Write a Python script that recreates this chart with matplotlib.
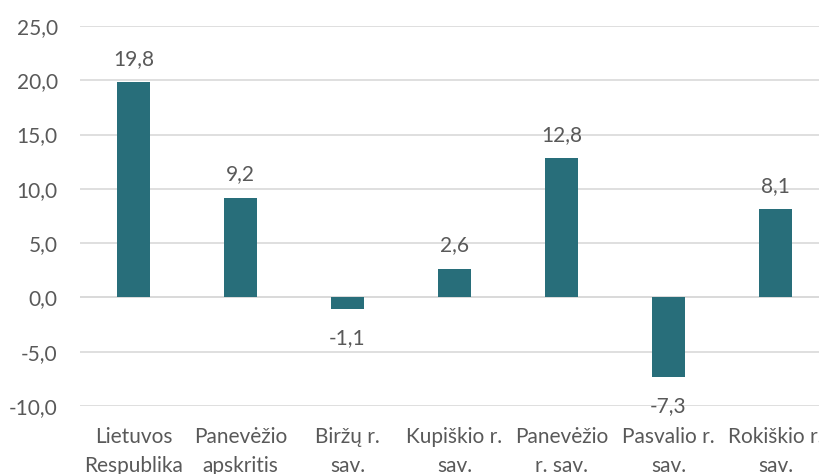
import matplotlib.pyplot as plt

categories = ["Lietuvos\nRespublika", "Panevėžio\napskritis", "Biržų r.\nsav.",
              "Kupiškio r.\nsav.", "Panevėžio\nr. sav.", "Pasvalio r.\nsav.",
              "Rokiškio r.\nsav."]
values = [19.8, 9.2, -1.1, 2.6, 12.8, -7.3, 8.1]
yticks = [-10, -5, 0, 5, 10, 15, 20, 25]

plt.rcParams['font.family'] = ['Lato', 'DejaVu Sans']
text_color = "#595959"

fig = plt.figure(figsize=(8.2, 4.74), dpi=100)
ax = fig.add_axes([80/820, 68/474, 749/820, 380/474])

x = list(range(len(categories)))
ax.bar(x, values, width=0.31, color="#286E7A", zorder=3)

# data labels above / below bars
for xi, v in zip(x, values):
    off = 17 if v >= 0 else -21
    ax.annotate(f"{v:.1f}".replace(".", ","), (xi, v), xytext=(0, off),
                textcoords="offset points", ha="center", va="center",
                fontsize=15, color=text_color)

ax.set_xlim(-0.5, len(categories) - 0.5)
ax.set_ylim(-10, 25)
ax.set_yticks(yticks)
ax.set_yticklabels([f"{t:.1f}".replace(".", ",") for t in yticks])
ax.set_xticks(x)
ax.set_xticklabels(categories, linespacing=1.6)

ax.grid(axis="y", color="#D9D9D9", linewidth=1.2, zorder=0)
ax.axhline(0, color="#D9D9D9", linewidth=1.2, zorder=1)
for s in ax.spines.values():
    s.set_visible(False)
ax.tick_params(axis="y", length=0, pad=16, labelsize=15, labelcolor=text_color)
ax.tick_params(axis="x", length=0, pad=15, labelsize=15, labelcolor=text_color)

fig.savefig("out.png", dpi=100)
